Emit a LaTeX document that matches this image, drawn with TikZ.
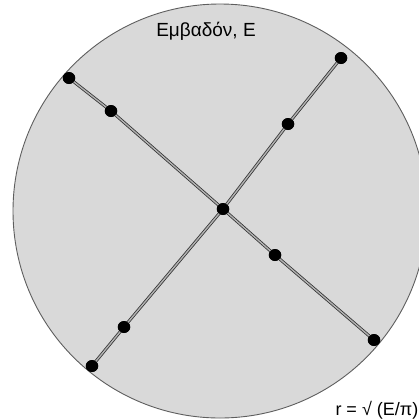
\documentclass[tikz,border=0pt]{standalone}
\usepackage{fontspec}
\setmainfont{Liberation Sans}
\definecolor{discfill}{HTML}{D9D9D9}
\definecolor{discedge}{HTML}{5E5E5E}
\definecolor{rodcol}{HTML}{333333}
\begin{document}
\begin{tikzpicture}[x=1pt,y=-1pt,
  dotnode/.style={circle,fill=black,inner sep=0pt,minimum size=12pt},
  rod/.style={draw=rodcol,line width=0.8pt,double=gray!60,double distance=1.4pt},
  lbl/.style={inner sep=0pt,font=\fontsize{19}{22}\selectfont}]
\useasboundingbox (0,0) rectangle (419,418);
\begin{scope}
\clip (0,0) rectangle (419,418);
\node[circle,draw=discedge,fill=discfill,line width=0.9pt,minimum size=414pt,inner sep=0pt] (disc) at (220,211) {};
\end{scope}
\node[dotnode] (a1) at (69,78) {};
\node[dotnode] (a2) at (111,111) {};
\node[dotnode] (c) at (223,209) {};
\node[dotnode] (a3) at (275,255) {};
\node[dotnode] (a4) at (374,340) {};
\node[dotnode] (b1) at (341,58) {};
\node[dotnode] (b2) at (288,124) {};
\node[dotnode] (b3) at (124,327) {};
\node[dotnode] (b4) at (92,366) {};
\draw[rod] (a1.center) -- (a2.center) -- (c.center) -- (a3.center) -- (a4.center);
\draw[rod] (b1.center) -- (b2.center) -- (c.center) -- (b3.center) -- (b4.center);
\foreach \n in {a1,a2,c,a3,a4,b1,b2,b3,b4}{\fill (\n) ellipse (6.3pt and 5.8pt);}
\node[lbl] (title) at (206,31) {Εμβαδόν, Ε};
\node[lbl,anchor=base east,font=\fontsize{18}{21}\selectfont] (formula) at (418.5,415) {r = √ (E/π)};
\end{tikzpicture}
\end{document}
